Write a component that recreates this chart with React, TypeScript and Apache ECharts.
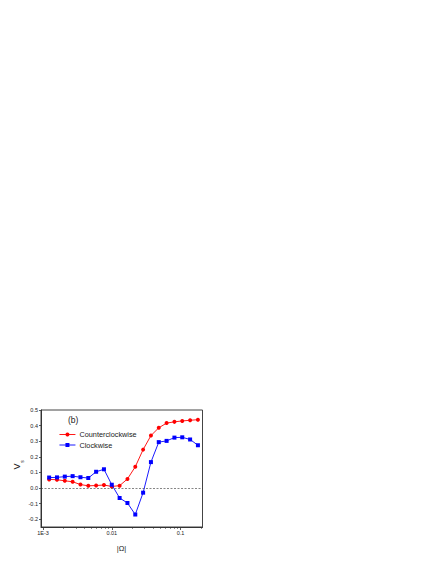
import React, { useEffect, useRef } from "react";
import * as echarts from "echarts";

const omega = [
  0.001226, 0.001594, 0.002072, 0.002693, 0.003501, 0.004552, 0.005917, 0.007692,
  0.01, 0.013, 0.0169, 0.02197, 0.02856, 0.03713, 0.04827, 0.06275, 0.08157,
  0.106, 0.1379, 0.1792,
];
const counterclockwise = [
  0.055, 0.053, 0.046, 0.04, 0.022, 0.014, 0.016, 0.019, 0.01, 0.015, 0.058,
  0.136, 0.246, 0.336, 0.386, 0.416, 0.424, 0.43, 0.434, 0.438,
];
const clockwise = [
  0.067, 0.068, 0.073, 0.076, 0.069, 0.064, 0.104, 0.12, 0.021, -0.064, -0.096,
  -0.17, -0.03, 0.166, 0.294, 0.302, 0.323, 0.325, 0.311, 0.274,
];
const xMajorTicks = [0.001, 0.01, 0.1];
const xMajorLabels = ["1E-3", "0.01", "0.1"];
const xMinorMultipliers = [2, 3, 4, 5, 6, 7, 8, 9];
const yTicks = [-0.2, -0.1, 0.0, 0.1, 0.2, 0.3, 0.4, 0.5];

const X_MIN = -3.03;
const X_MAX = -0.68;
const FONT = "Liberation Sans, Arial, sans-serif";

export default function App() {
  const ref = useRef<HTMLDivElement>(null);
  useEffect(() => {
    if (!ref.current) return;
    const chart = echarts.init(ref.current, undefined, { renderer: "svg" });
    const majorPos = xMajorTicks.map((v) => Math.log10(v));
    const minorPos: number[] = [];
    xMajorTicks.forEach((d) => {
      xMinorMultipliers.forEach((m) => {
        const p = Math.log10(d * m);
        if (p > X_MIN && p < X_MAX) minorPos.push(p);
      });
    });
    const labelFor = (v: number) => {
      const i = majorPos.findIndex((p) => Math.abs(p - v) < 1e-6);
      return i >= 0 ? xMajorLabels[i] : "";
    };
    const ccw = omega.map((x, i) => [Math.log10(x), counterclockwise[i]]);
    const cw = omega.map((x, i) => [Math.log10(x), clockwise[i]]);
    chart.setOption({
      animation: false,
      grid: {
        left: 41,
        top: 410,
        right: 233.5,
        bottom: 37,
        show: true,
        borderColor: "#444",
        borderWidth: 1,
      },
      legend: {
        left: 59,
        top: 431,
        orient: "vertical",
        itemWidth: 16,
        itemHeight: 5,
        itemGap: 3.5,
        padding: 0,
        lineStyle: { width: 0.9 },
        textStyle: { fontSize: 7.3, fontFamily: FONT, color: "#222", padding: [0, 0, 0, -1] },
        data: ["Counterclockwise", "Clockwise"],
      },
      xAxis: [
        {
          type: "value",
          min: X_MIN,
          max: X_MAX,
          axisLine: { show: true, onZero: false, lineStyle: { color: "#333", width: 1 } },
          splitLine: { show: false },
          axisTick: {
            show: true,
            customValues: majorPos,
            length: 3,
            lineStyle: { color: "#333", width: 0.8 },
          },
          axisLabel: {
            show: true,
            customValues: majorPos,
            formatter: (v: number) => labelFor(v),
            fontSize: 5.5,
            fontFamily: FONT,
            color: "#222",
            margin: 3,
          },
        },
        {
          type: "value",
          min: X_MIN,
          max: X_MAX,
          position: "bottom",
          axisLine: { show: false, onZero: false },
          splitLine: { show: false },
          axisLabel: { show: false },
          axisTick: {
            show: true,
            customValues: minorPos,
            length: 1.8,
            lineStyle: { color: "#333", width: 0.7 },
          },
        },
      ],
      yAxis: {
        type: "value",
        min: -0.25,
        max: 0.5,
        axisLine: { show: true, onZero: false, lineStyle: { color: "#333", width: 1 } },
        splitLine: { show: false },
        axisTick: {
          show: true,
          customValues: yTicks,
          length: 2,
          lineStyle: { color: "#333", width: 0.8 },
        },
        axisLabel: {
          show: true,
          customValues: yTicks,
          formatter: (v: number) => v.toFixed(1),
          fontSize: 5.5,
          fontFamily: FONT,
          color: "#222",
          margin: 3,
        },
      },
      series: [
        {
          name: "Counterclockwise",
          type: "line",
          data: ccw,
          symbol: "circle",
          symbolSize: 4,
          itemStyle: { color: "#ff0000" },
          lineStyle: { color: "#ff0000", width: 0.9 },
          markLine: {
            silent: true,
            symbol: ["none", "none"],
            label: { show: false },
            lineStyle: { color: "#333", type: [2, 1.5], width: 0.6 },
            data: [{ yAxis: 0 }],
          },
          z: 3,
        },
        {
          name: "Clockwise",
          type: "line",
          data: cw,
          symbol: "rect",
          symbolSize: 4,
          itemStyle: { color: "#0000ff" },
          lineStyle: { color: "#0000ff", width: 0.9 },
          z: 4,
        },
      ],
      graphic: [
        {
          type: "text",
          left: 68,
          top: 415.5,
          style: { text: "(b)", fontSize: 8.5, fontFamily: FONT, fill: "#222" },
        },
        {
          type: "text",
          x: 21.5,
          y: 466.5,
          rotation: Math.PI / 2,
          style: {
            text: "V",
            fontSize: 9,
            fontFamily: FONT,
            fill: "#222",
            align: "center",
            verticalAlign: "bottom",
          },
        },
        {
          type: "text",
          x: 24,
          y: 461.5,
          rotation: Math.PI / 2,
          style: {
            text: "s",
            fontSize: 5,
            fontFamily: FONT,
            fill: "#222",
            align: "center",
            verticalAlign: "bottom",
          },
        },
        {
          type: "text",
          x: 121.5,
          y: 548.5,
          style: {
            text: "|Ω|",
            fontSize: 7.5,
            fontFamily: FONT,
            fill: "#222",
            align: "center",
            verticalAlign: "middle",
          },
        },
      ],
    });
    return () => chart.dispose();
  }, []);
  return (
    <div
      ref={ref}
      style={{ position: "fixed", left: 0, top: 0, width: 436, height: 564, background: "#fff" }}
    />
  );
}
